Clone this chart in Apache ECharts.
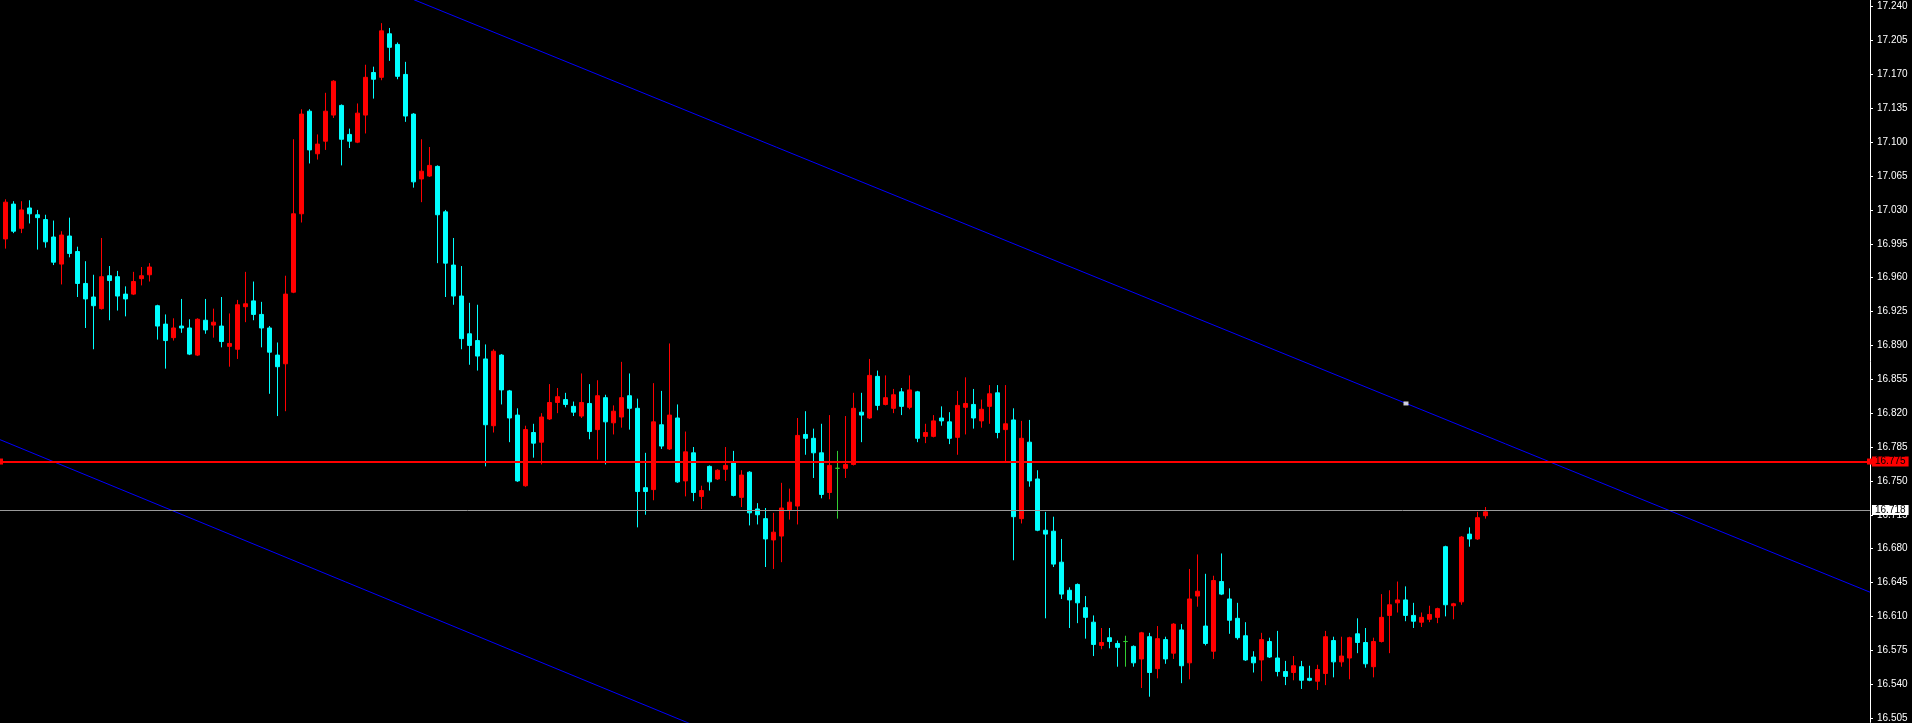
<!DOCTYPE html>
<html><head><meta charset="utf-8">
<script src="https://cdn.jsdelivr.net/npm/echarts@6/dist/echarts.min.js"></script>
<style>html,body{margin:0;padding:0;background:#000;overflow:hidden}#c{width:1912px;height:723px}</style>
</head><body><div id="c"></div>
<script>
// [open, close, low, high] per bar
const ohlc = [
[17.000,17.038,16.990,17.041],[17.036,17.008,17.006,17.039],[17.011,17.030,17.006,17.039],[17.032,17.026,17.016,17.040],
[17.025,17.022,16.989,17.030],[17.020,16.997,16.991,17.025],[17.002,16.976,16.973,17.019],[16.974,17.004,16.953,17.008],
[17.003,16.985,16.981,17.022],[16.987,16.954,16.940,16.992],[16.954,16.938,16.908,16.977],[16.940,16.931,16.886,16.963],
[16.928,16.961,16.927,17.001],[16.962,16.957,16.916,16.972],[16.961,16.941,16.926,16.967],[16.943,16.938,16.920,16.951],
[16.943,16.956,16.942,16.966],[16.959,16.962,16.952,16.971],[16.963,16.971,16.956,16.975],[16.931,16.910,16.896,16.932],
[16.912,16.895,16.866,16.922],[16.898,16.908,16.895,16.918],[16.910,16.908,16.903,16.938],[16.908,16.881,16.880,16.917],
[16.880,16.917,16.879,16.918],[16.916,16.906,16.902,16.938],[16.911,16.914,16.898,16.928],[16.910,16.894,16.888,16.940],
[16.889,16.892,16.868,16.923],[16.886,16.932,16.876,16.937],[16.930,16.933,16.914,16.966],[16.936,16.922,16.916,16.956],
[16.922,16.908,16.888,16.935],[16.908,16.883,16.840,16.910],[16.880,16.868,16.817,16.893],[16.871,16.943,16.822,16.962],
[16.945,17.026,16.944,17.103],[17.026,17.129,17.017,17.134],[17.132,17.092,17.078,17.134],[17.088,17.098,17.082,17.108],
[17.101,17.132,17.092,17.151],[17.128,17.163,17.125,17.164],[17.138,17.103,17.076,17.139],[17.108,17.101,17.094,17.114],
[17.100,17.130,17.099,17.140],[17.128,17.167,17.109,17.180],[17.172,17.165,17.145,17.178],[17.167,17.215,17.164,17.223],
[17.212,17.198,17.184,17.218],[17.201,17.168,17.165,17.203],[17.170,17.127,17.121,17.183],[17.129,17.059,17.053,17.130],
[17.062,17.070,17.038,17.103],[17.065,17.076,17.064,17.095],[17.075,17.025,16.975,17.076],[17.028,16.975,16.940,17.030],
[16.973,16.941,16.932,17.001],[16.941,16.897,16.886,16.972],[16.902,16.890,16.870,16.934],[16.895,16.879,16.864,16.932],
[16.876,16.808,16.765,16.891],[16.807,16.884,16.800,16.886],[16.880,16.844,16.829,16.881],[16.843,16.815,16.790,16.844],
[16.818,16.750,16.749,16.825],[16.745,16.803,16.744,16.807],[16.800,16.789,16.774,16.809],[16.790,16.816,16.767,16.820],
[16.814,16.831,16.813,16.850],[16.831,16.837,16.820,16.846],[16.834,16.829,16.826,16.841],[16.827,16.821,16.817,16.832],
[16.817,16.831,16.815,16.861],[16.830,16.801,16.793,16.850],[16.803,16.838,16.772,16.854],[16.836,16.811,16.767,16.839],
[16.810,16.822,16.798,16.828],[16.816,16.836,16.805,16.873],[16.838,16.825,16.803,16.861],[16.825,16.739,16.702,16.835],
[16.743,16.739,16.715,16.779],[16.741,16.811,16.730,16.851],[16.808,16.786,16.783,16.843],[16.783,16.818,16.782,16.892],
[16.815,16.749,16.748,16.829],[16.750,16.780,16.734,16.801],[16.779,16.738,16.729,16.785],[16.734,16.740,16.721,16.745],
[16.765,16.749,16.740,16.766],[16.752,16.761,16.751,16.762],[16.762,16.766,16.750,16.785],[16.769,16.735,16.734,16.781],
[16.733,16.756,16.723,16.761],[16.759,16.717,16.704,16.760],[16.721,16.715,16.705,16.727],[16.711,16.690,16.661,16.722],
[16.689,16.697,16.659,16.717],[16.693,16.722,16.666,16.748],[16.720,16.728,16.710,16.742],[16.724,16.797,16.705,16.815],
[16.798,16.794,16.777,16.822],[16.794,16.779,16.753,16.804],[16.779,16.736,16.732,16.809],[16.738,16.766,16.731,16.818],
[16.763,16.763,16.711,16.781],[16.763,16.767,16.753,16.817],[16.767,16.825,16.766,16.841],[16.821,16.818,16.790,16.841],
[16.815,16.859,16.814,16.876],[16.858,16.828,16.823,16.864],[16.829,16.836,16.828,16.859],[16.825,16.839,16.820,16.845],
[16.842,16.827,16.818,16.846],[16.826,16.844,16.824,16.859],[16.842,16.794,16.790,16.843],[16.796,16.800,16.789,16.809],
[16.796,16.812,16.795,16.818],[16.815,16.812,16.807,16.827],[16.811,16.794,16.788,16.821],[16.795,16.828,16.777,16.843],
[16.826,16.830,16.798,16.857],[16.829,16.815,16.804,16.845],[16.812,16.824,16.805,16.834],[16.827,16.840,16.809,16.849],
[16.841,16.800,16.794,16.849],[16.803,16.809,16.770,16.849],[16.813,16.713,16.668,16.825],[16.711,16.794,16.706,16.812],
[16.790,16.750,16.744,16.813],[16.752,16.699,16.698,16.761],[16.699,16.695,16.608,16.718],[16.698,16.664,16.661,16.713],
[16.666,16.633,16.628,16.690],[16.637,16.627,16.598,16.640],[16.643,16.624,16.603,16.644],[16.619,16.609,16.587,16.631],
[16.604,16.581,16.569,16.611],[16.580,16.583,16.576,16.598],[16.588,16.584,16.577,16.598],[16.582,16.578,16.558,16.585],
[16.584,16.584,16.558,16.590],[16.579,16.562,16.558,16.580],[16.566,16.593,16.536,16.594],[16.589,16.552,16.527,16.593],
[16.556,16.587,16.546,16.600],[16.586,16.566,16.561,16.589],[16.572,16.602,16.566,16.603],[16.596,16.559,16.541,16.602],
[16.562,16.628,16.545,16.659],[16.631,16.636,16.620,16.674],[16.600,16.582,16.580,16.654],[16.574,16.647,16.566,16.652],
[16.646,16.633,16.632,16.675],[16.628,16.606,16.592,16.639],[16.608,16.588,16.586,16.624],[16.590,16.565,16.564,16.604],
[16.568,16.562,16.552,16.574],[16.565,16.586,16.543,16.593],[16.584,16.568,16.567,16.588],[16.567,16.553,16.548,16.595],
[16.553,16.548,16.539,16.564],[16.552,16.559,16.544,16.569],[16.558,16.544,16.535,16.564],[16.546,16.544,16.543,16.559],
[16.543,16.555,16.534,16.560],[16.551,16.589,16.539,16.595],[16.585,16.563,16.547,16.589],[16.563,16.569,16.558,16.589],
[16.567,16.588,16.545,16.589],[16.592,16.583,16.572,16.608],[16.583,16.561,16.557,16.598],[16.558,16.584,16.547,16.588],
[16.584,16.609,16.583,16.633],[16.611,16.622,16.572,16.637],[16.624,16.627,16.614,16.646],[16.627,16.611,16.605,16.641],
[16.611,16.605,16.598,16.624],[16.604,16.609,16.599,16.614],[16.607,16.612,16.604,16.621],[16.609,16.618,16.603,16.619],
[16.682,16.622,16.610,16.683],[16.621,16.623,16.607,16.624],[16.625,16.692,16.622,16.693],[16.695,16.690,16.682,16.702],
[16.690,16.712,16.689,16.718],[16.714,16.718,16.711,16.723]
];
const priceTicks = [16.505,16.540,16.575,16.610,16.645,16.680,16.715,16.750,16.785,16.820,16.855,16.890,16.925,16.960,16.995,17.030,17.065,17.100,17.135,17.170,17.205,17.240];
const priceRange = [16.5005, 17.2469];
const barRange = [-0.6875, 233.0625];
const resistanceLevel = 16.775;
const lastPrice = 16.718;
const upperTrend = [[40, 17.2844], [233.0625, 16.635]];
const lowerTrend = [[-0.6875, 16.7926], [120, 16.382]];
const trendAnchor = [[175.06, 16.830]];

const UP = '#ff0000', DOWN = '#00ffff', DOJI = '#32cd32';
const FONT = 'Liberation Sans, Arial, sans-serif';
const candleData = ohlc.map((d, i) => {
  const item = { value: [i, d[0], d[1], d[2], d[3]] };
  if (d[0] === d[1]) item.itemStyle = { color: DOJI, borderColor: DOJI, color0: DOJI, borderColor0: DOJI };
  return item;
});

function priceLabel(bg) {
  return { show: true, position: 'end', distance: 2, color: '#000000', backgroundColor: bg,
    fontFamily: FONT, fontSize: 10, padding: [1, 3, 0, 3], lineHeight: 9 };
}

const chart = echarts.init(document.getElementById('c'), null, { renderer: 'canvas' });
chart.setOption({
  backgroundColor: '#000000',
  animation: false,
  grid: { left: 0, right: 42, top: 0, bottom: 0 },
  xAxis: { type: 'value', min: barRange[0], max: barRange[1], show: false },
  yAxis: {
    type: 'value', position: 'right', min: priceRange[0], max: priceRange[1],
    axisLine: { show: true, onZero: false, lineStyle: { color: '#ffffff', width: 1 } },
    axisTick: { show: true, length: 3, lineStyle: { color: '#ffffff' }, customValues: priceTicks },
    axisLabel: { show: true, color: '#ffffff', fontFamily: FONT, fontSize: 10, margin: 7,
      customValues: priceTicks, formatter: v => v.toFixed(3) },
    splitLine: { show: false }
  },
  series: [
    {
      type: 'candlestick', data: candleData, encode: { x: 0, y: [1, 2, 3, 4] },
      barWidth: 4, z: 2,
      itemStyle: { color: UP, color0: DOWN, borderColor: UP, borderColor0: DOWN, borderColorDoji: DOJI, borderWidth: 1 }
    },
    { type: 'line', data: upperTrend, symbol: 'none', z: 3, lineStyle: { color: '#0000ff', width: 1 } },
    { type: 'line', data: lowerTrend, symbol: 'none', z: 3, lineStyle: { color: '#0000ff', width: 1 } },
    { type: 'scatter', data: trendAnchor, symbol: 'rect', symbolSize: [5, 4], z: 4, itemStyle: { color: '#ffffff' } },
    {
      type: 'line', data: [], z: 5,
      markLine: {
        silent: true, animation: false, symbol: ['none', 'none'],
        lineStyle: { color: '#9a9a9a', width: 1, type: 'solid' },
        label: Object.assign(priceLabel('#ffffff'), { formatter: lastPrice.toFixed(3) }),
        data: [{ yAxis: lastPrice }]
      }
    },
    {
      type: 'line', data: [], z: 6,
      markLine: {
        silent: true, animation: false, symbol: ['rect', 'rect'], symbolSize: 6,
        itemStyle: { color: '#ff0000' },
        lineStyle: { color: '#ff0000', width: 2, type: 'solid' },
        label: Object.assign(priceLabel('#ff0000'), { formatter: resistanceLevel.toFixed(3) }),
        data: [{ yAxis: resistanceLevel }]
      }
    }
  ]
});
</script></body></html>
